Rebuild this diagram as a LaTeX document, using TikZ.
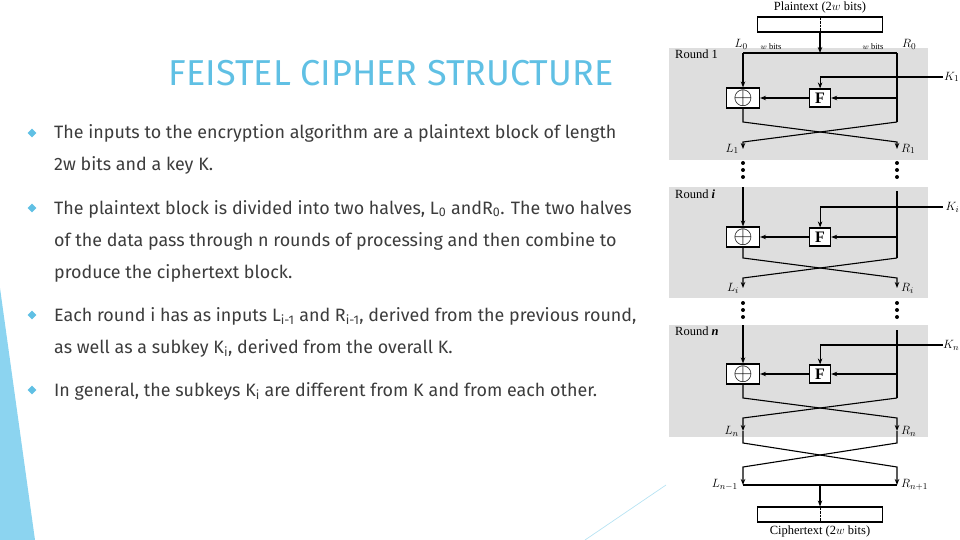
\documentclass[tikz,border=0pt]{standalone}
\usepackage{fontspec}
\setmainfont{Fira Sans}
\newfontfamily\diagfont{Liberation Serif}
\usetikzlibrary{positioning,arrows.meta,shapes.geometric}

\definecolor{titleblue}{RGB}{96,192,228}
\definecolor{bodygray}{RGB}{60,60,60}
\definecolor{wedgeblue}{RGB}{140,212,240}
\definecolor{panelgray}{RGB}{222,222,222}

\tikzset{
  bullet/.style={diamond, fill=titleblue, inner sep=0pt, minimum size=9pt},
  bodytext/.style={anchor=base west, inner sep=0pt, text=bodygray, font=\fontsize{17.9}{20}\selectfont},
  flow/.style={line width=1.1pt, line join=miter},
  arr/.style={flow, -{Stealth[length=6pt,width=4.5pt]}},
  xorbox/.style={draw, line width=1.1pt, fill=white, minimum width=33pt, minimum height=20pt, inner sep=0pt, font=\fontsize{28}{28}\selectfont},
  fbox/.style={draw, line width=1.1pt, fill=white, minimum width=21pt, minimum height=18pt, inner sep=0pt, font=\diagfont\bfseries\fontsize{16}{16}\selectfont},
  panel/.style={fill=panelgray},
  lbl/.style={font=\diagfont\fontsize{12.5}{14}\selectfont, inner sep=0pt},
  tinylbl/.style={font=\diagfont\fontsize{8.5}{9}\selectfont, inner sep=0pt},
  textbox/.style={draw, line width=1.1pt, minimum width=125pt, minimum height=15pt, inner sep=0pt},
}

\begin{document}
\begin{tikzpicture}[x=1pt,y=-1pt]
\useasboundingbox (0,0) rectangle (960,540);

% slide decoration
\fill[wedgeblue] (0,288) -- (35,540) -- (0,540) -- cycle;
\draw[titleblue!45, line width=0.7pt] (585,540) -- (666,485);

% title and bullet text
\node[text=titleblue, font=\fontsize{36}{40}\selectfont] (title) at (391,73) {FEISTEL CIPHER STRUCTURE};

\node[bullet] (b1) at (32,133) {};
\node[bodytext] (t1a) at (54,139) {The inputs to the encryption algorithm are a plaintext block of length};
\node[bodytext] (t1b) at (54,171) {2w bits and a key K.};

\node[bullet] (b2) at (32,208) {};
\node[bodytext] (t2a) at (54,214) {The plaintext block is divided into two halves, L\textsubscript{0} andR\textsubscript{0}. The two halves};
\node[bodytext] (t2b) at (54,246) {of the data pass through n rounds of processing and then combine to};
\node[bodytext] (t2c) at (54,278) {produce the ciphertext block.};

\node[bullet] (b3) at (32,315) {};
\node[bodytext] (t3a) at (54,321) {Each round i has as inputs L\textsubscript{i-1} and R\textsubscript{i-1}, derived from the previous round,};
\node[bodytext] (t3b) at (54,353) {as well as a subkey K\textsubscript{i}, derived from the overall K.};

\node[bullet] (b4) at (32,390) {};
\node[bodytext] (t4a) at (54,396) {In general, the subkeys K\textsubscript{i} are different from K and from each other.};

% round panels
\fill[panel] (669,48) rectangle (928,160);
\fill[panel] (669,187) rectangle (928,298);
\fill[panel] (669,325) rectangle (928,437);

% plaintext input
\node[textbox] (ptext) at (820,24.5) {};
\node[lbl, above=3pt of ptext] (plabel) {Plaintext (2$w$ bits)};
\draw[densely dotted, thin] (ptext.north) -- (ptext.south);
\coordinate (split) at (820,53);
\draw[arr] (ptext.south) -- (split);

% round 1
\coordinate (top1l) at (743,53);
\coordinate (top1r) at (897,53);
\node[xorbox] (x1) at (743,98) {$\oplus$};
\node[fbox, right=49pt of x1] (f1) {F};
\coordinate (k1) at (943,77);
\coordinate (c1l) at (743,122);
\coordinate (c1r) at (897,122);
\coordinate (e1l) at (743,142);
\coordinate (e1r) at (897,142);
\coordinate (o1l) at (743,149);
\coordinate (o1r) at (897,149);

\node[lbl, anchor=west] (rnd1) at (675,54) {Round 1};
\node[lbl, above left=3pt and -5pt of top1l] (l0) {$L_0$};
\node[lbl, above right=3pt and 5pt of top1r] (r0) {$R_0$};
\node[tinylbl] (w1) at (771,47) {$w$ bits};
\node[tinylbl] (w2) at (873,47) {$w$ bits};
\node[lbl, anchor=east] (key1) at (959.5,77) {$K_1$};

\draw[flow] (top1l) -- (top1r);
\draw[arr] (top1l) -- (x1);
\draw[arr] (k1) -| (f1);
\draw[flow] (top1r) -- (c1r);
\draw[arr] (c1r |- f1) -- (f1);
\draw[arr] (f1) -- (x1);
\draw[arr] (x1) -- (c1l) -- (e1r) -- (o1r);
\draw[arr] (c1r) -- (e1l) -- (o1l);
\node[lbl, left=4pt of o1l] (l1) {$L_1$};
\node[lbl, right=4pt of o1r] (r1) {$R_1$};

\fill (743,163) circle (2) (743,170) circle (2) (743,177) circle (2);
\fill (897,163) circle (2) (897,170) circle (2) (897,177) circle (2);

% round i
\coordinate (top2l) at (743,187);
\coordinate (top2r) at (897,191);
\node[xorbox] (x2) at (743,237) {$\oplus$};
\node[fbox, right=49pt of x2] (f2) {F};
\coordinate (k2) at (943,207);
\coordinate (c2l) at (743,258);
\coordinate (c2r) at (897,258);
\coordinate (e2l) at (743,278);
\coordinate (e2r) at (897,278);
\coordinate (o2l) at (743,288);
\coordinate (o2r) at (897,288);

\node[lbl, anchor=west] (rnd2) at (675,194) {Round \textbf{\textit{i}}};
\node[lbl, anchor=east] (key2) at (959.5,207) {$K_i$};

\draw[arr] (top2l) -- (x2);
\draw[arr] (k2) -| (f2);
\draw[flow] (top2r) -- (c2r);
\draw[arr] (c2r |- f2) -- (f2);
\draw[arr] (f2) -- (x2);
\draw[arr] (x2) -- (c2l) -- (e2r) -- (o2r);
\draw[arr] (c2r) -- (e2l) -- (o2l);
\node[lbl, left=4pt of o2l] (li) {$L_i$};
\node[lbl, right=4pt of o2r] (ri) {$R_i$};

\fill (743,303) circle (2) (743,310) circle (2) (743,317) circle (2);
\fill (897,303) circle (2) (897,310) circle (2) (897,317) circle (2);

% round n
\coordinate (top3l) at (743,325);
\coordinate (top3r) at (897,330);
\node[xorbox] (x3) at (743,374) {$\oplus$};
\node[fbox, right=49pt of x3] (f3) {F};
\coordinate (k3) at (943,345);
\coordinate (c3l) at (743,398);
\coordinate (c3r) at (897,398);
\coordinate (e3l) at (743,418);
\coordinate (e3r) at (897,418);
\coordinate (o3l) at (743,431);
\coordinate (o3r) at (897,431);

\node[lbl, anchor=west] (rnd3) at (675,331) {Round \textbf{\textit{n}}};
\node[lbl, anchor=east] (key3) at (959.5,345) {$K_n$};

\draw[arr] (top3l) -- (x3);
\draw[arr] (k3) -| (f3);
\draw[flow] (top3r) -- (c3r);
\draw[arr] (c3r |- f3) -- (f3);
\draw[arr] (f3) -- (x3);
\draw[arr] (x3) -- (c3l) -- (e3r) -- (o3r);
\draw[arr] (c3r) -- (e3l) -- (o3l);
\node[lbl, left=4pt of o3l] (ln) {$L_n$};
\node[lbl, right=4pt of o3r] (rn) {$R_n$};

% final swap and output
\coordinate (c4l) at (743,443);
\coordinate (c4r) at (897,443);
\coordinate (e4l) at (743,467);
\coordinate (e4r) at (897,467);
\coordinate (b4l) at (743,485);
\coordinate (b4r) at (897,485);
\coordinate (b4m) at (820,485);
\node[textbox] (ctext) at (820,514.5) {};
\node[lbl, below=3pt of ctext] (clabel) {Ciphertext (2$w$ bits)};
\draw[densely dotted, thin] (ctext.north) -- (ctext.south);

\draw[arr] (o3l) -- (c4l) -- (e4r) -- (b4r);
\draw[arr] (o3r) -- (c4r) -- (e4l) -- (b4l);
\draw[flow] (b4l) -- (b4r);
\draw[arr] (b4m) -- (ctext);
\node[lbl, left=5pt of b4l] (lout) {$L_{n-1}$};
\node[lbl, right=4pt of b4r] (rout) {$R_{n+1}$};
\end{tikzpicture}
\end{document}
